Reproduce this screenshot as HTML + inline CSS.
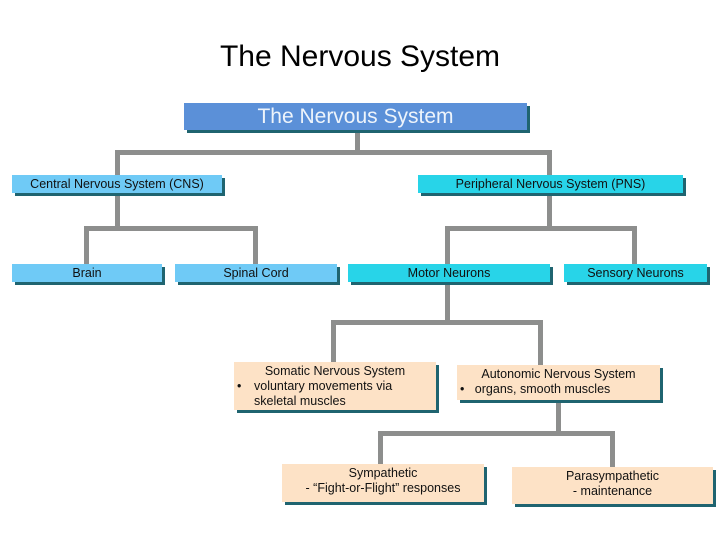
<!DOCTYPE html>
<html><head><meta charset="utf-8"><style>
body{margin:0;width:720px;height:540px;background:#fff;position:relative;overflow:hidden;font-family:"Liberation Sans",Arial,sans-serif}
.b{position:absolute;box-shadow:3px 3px 0 #1f6470;text-align:center;color:#111;font-size:12.5px;display:flex;align-items:center;justify-content:center;line-height:15px}
.l{position:absolute;background:#8d8e8d}
.bl{background:#6fcaf6}.cy{background:#28d4e8}.be{background:#fde2c6}
.t{display:block;text-align:left}
</style></head><body>
<div style="position:absolute;left:0;width:720px;top:40px;text-align:center;font-size:30px;color:#000">The Nervous System</div>
<!-- lines -->
<div class="l" style="left:355px;top:130px;width:5px;height:24px"></div>
<div class="l" style="left:115px;top:150px;width:437px;height:5px"></div>
<div class="l" style="left:115px;top:150px;width:5px;height:26px"></div>
<div class="l" style="left:547px;top:150px;width:5px;height:26px"></div>
<div class="l" style="left:115px;top:192px;width:5px;height:38px"></div>
<div class="l" style="left:84px;top:226px;width:173px;height:5px"></div>
<div class="l" style="left:84px;top:226px;width:5px;height:38px"></div>
<div class="l" style="left:253px;top:226px;width:5px;height:38px"></div>
<div class="l" style="left:547px;top:192px;width:5px;height:38px"></div>
<div class="l" style="left:445px;top:226px;width:192px;height:5px"></div>
<div class="l" style="left:445px;top:226px;width:5px;height:38px"></div>
<div class="l" style="left:632px;top:226px;width:5px;height:38px"></div>
<div class="l" style="left:445px;top:282px;width:5px;height:42px"></div>
<div class="l" style="left:331px;top:320px;width:211px;height:5px"></div>
<div class="l" style="left:331px;top:320px;width:5px;height:43px"></div>
<div class="l" style="left:538px;top:320px;width:5px;height:46px"></div>
<div class="l" style="left:556px;top:400px;width:5px;height:35px"></div>
<div class="l" style="left:378px;top:431px;width:236px;height:5px"></div>
<div class="l" style="left:378px;top:431px;width:5px;height:34px"></div>
<div class="l" style="left:610px;top:431px;width:5px;height:37px"></div>
<!-- boxes -->
<div class="b" style="left:184px;top:103px;width:343px;height:27px;background:#5b90d8;color:#eef4fb;font-size:21px">The Nervous System</div>
<div class="b bl" style="left:12px;top:175px;width:210px;height:18px">Central Nervous System (CNS)</div>
<div class="b cy" style="left:418px;top:175px;width:265px;height:18px">Peripheral Nervous System (PNS)</div>
<div class="b bl" style="left:12px;top:264px;width:150px;height:18px">Brain</div>
<div class="b bl" style="left:175px;top:264px;width:162px;height:18px">Spinal Cord</div>
<div class="b cy" style="left:348px;top:264px;width:202px;height:18px">Motor Neurons</div>
<div class="b cy" style="left:564px;top:264px;width:143px;height:18px">Sensory Neurons</div>
<div class="b be" style="left:234px;top:362px;width:202px;height:48px;display:block;font-size:12.5px">
<div style="text-align:center;margin-top:2px">Somatic Nervous System</div>
<div style="position:relative;padding-left:20px;text-align:left"><span style="position:absolute;left:3px">•</span>voluntary movements via<br>skeletal muscles</div></div>
<div class="b be" style="left:457px;top:365px;width:203px;height:35px;display:block">
<div style="text-align:center;margin-top:2px">Autonomic Nervous System</div>
<div style="text-align:left;padding-left:3px">•&nbsp;&nbsp;&nbsp;organs, smooth muscles</div></div>
<div class="b be" style="left:282px;top:464px;width:202px;height:38px;display:block">
<div style="margin-top:2px">Sympathetic</div>
<div>- “Fight-or-Flight” responses</div></div>
<div class="b be" style="left:512px;top:467px;width:201px;height:37px;display:block">
<div style="margin-top:2px">Parasympathetic</div>
<div>- maintenance</div></div>
</body></html>
